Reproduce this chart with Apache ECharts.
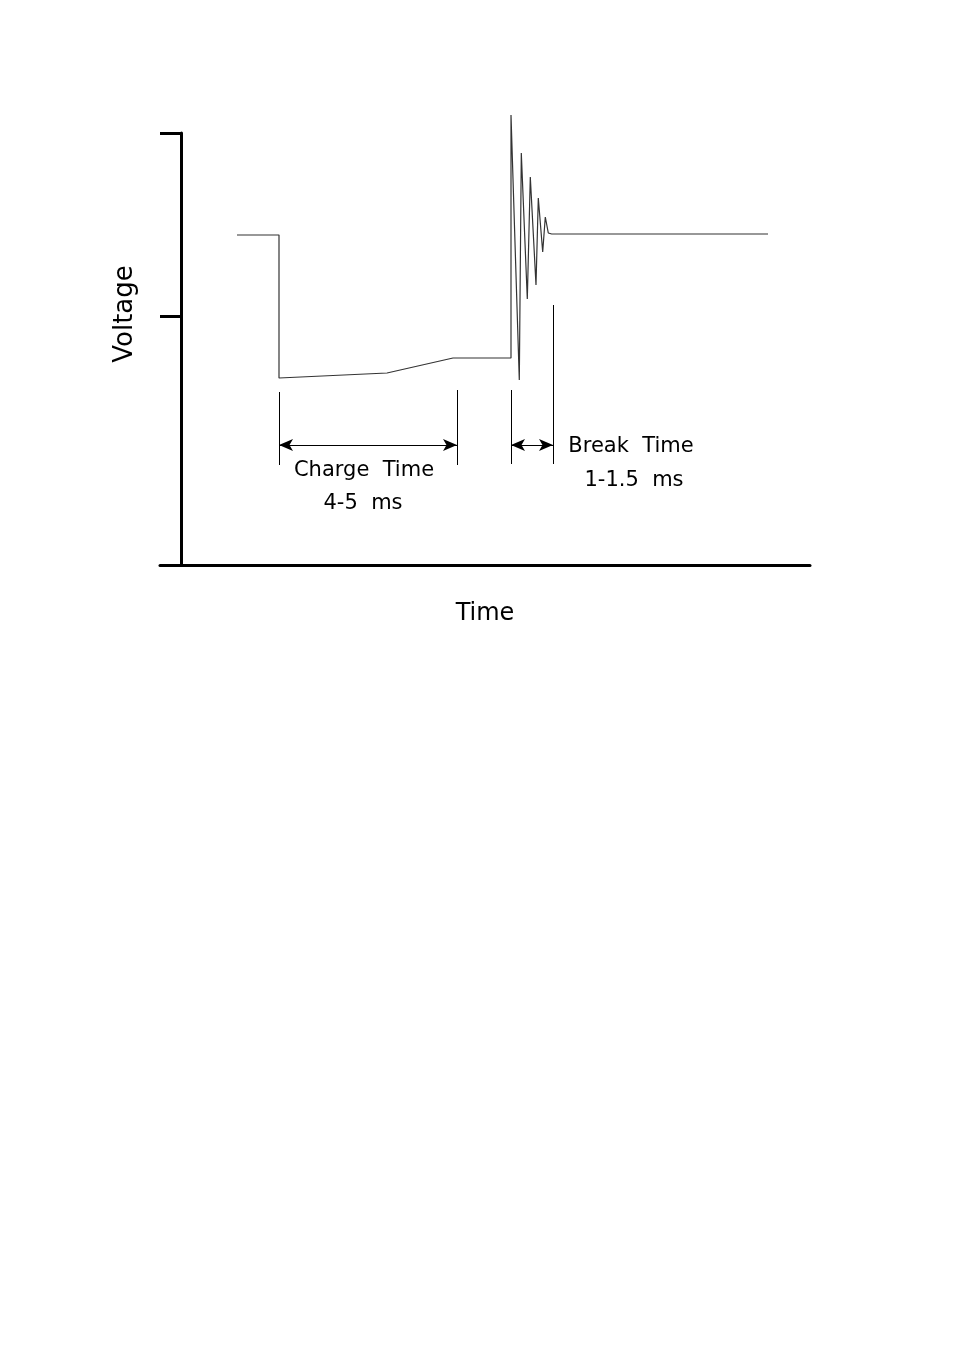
<!DOCTYPE html>
<html>
<head>
<meta charset="utf-8">
<script src="https://cdn.jsdelivr.net/npm/echarts@6/dist/echarts.min.js"></script>
<style>
  html, body { margin: 0; padding: 0; background: #fff; }
  #chart { width: 954px; height: 1351px; }
</style>
</head>
<body>
<div id="chart"></div>
<script>
// waveform (time in arbitrary units, voltage in arbitrary units)
var waveT = [56, 98, 98, 206, 272, 330, 330, 338.3, 340.3, 346.3, 349.3, 355, 357.3, 361.7, 364.3, 367.3, 370.7, 587];
var waveV = [330, 330, 187, 192, 207, 207, 450, 185, 412, 266, 388, 280, 367, 313, 348, 332, 331, 331];

// y axis tick positions
var yTicks = [249, 432];

// dimension markers: [t, vFrom, vTo]
var guideLines = [
  [98, 173, 100],
  [276, 175, 100],
  [330, 175, 101],
  [372, 260, 101]
];
// arrows: [tFrom, tTo, v]
var spanArrows = [
  [98, 276, 120],
  [330, 372, 120]
];
// labels: [text, t, v]
var notes = [
  ['Charge  Time', 183, 94],
  ['4-5  ms', 182, 61],
  ['Break  Time', 450, 118],
  ['1-1.5  ms', 453, 84]
];

var chart = echarts.init(document.getElementById('chart'));
var font = 'DejaVu Sans';

var markData = [];
guideLines.forEach(function (g) {
  markData.push([{ coord: [g[0], g[1]], symbol: 'none' }, { coord: [g[0], g[2]], symbol: 'none' }]);
});
spanArrows.forEach(function (a) {
  markData.push([{ coord: [a[0], a[2]], symbol: 'arrow' }, { coord: [a[1], a[2]], symbol: 'arrow' }]);
});

var option = {
  backgroundColor: '#fff',
  animation: false,
  grid: { left: 160, right: 144, top: 133, bottom: 786 },
  xAxis: {
    type: 'value',
    min: -21,
    max: 629,
    name: 'Time',
    nameLocation: 'middle',
    nameGap: 37,
    nameTextStyle: { fontFamily: font, fontSize: 24, color: '#000' },
    axisLine: { onZero: false, lineStyle: { color: '#000', width: 3 } },
    axisTick: { show: false },
    axisLabel: { show: false },
    splitLine: { show: false }
  },
  yAxis: {
    type: 'value',
    min: 0,
    max: 432,
    name: 'Voltage',
    nameLocation: 'middle',
    nameGap: 22,
    nameTextStyle: { fontFamily: font, fontSize: 26, color: '#000', padding: [0, 0, 0, 70] },
    axisLine: { onZero: true, lineStyle: { color: '#000', width: 3 } },
    axisTick: { show: true, length: 21, customValues: yTicks, lineStyle: { color: '#000', width: 3 } },
    axisLabel: { show: false },
    splitLine: { show: false }
  },
  series: [
    {
      type: 'line',
      clip: false,
      symbol: 'none',
      data: waveT.map(function (t, i) { return [t, waveV[i]]; }),
      lineStyle: { color: '#333', width: 1.2 },
      markLine: {
        silent: true,
        symbolSize: [9, 14],
        label: { show: false },
        lineStyle: { color: '#000', width: 1, type: 'solid' },
        itemStyle: { color: '#000' },
        data: markData
      },
      markPoint: {
        silent: true,
        symbolSize: 0,
        label: {
          show: true,
          position: 'inside',
          fontFamily: font,
          fontSize: 21,
          color: '#000',
          formatter: function (p) { return p.name; }
        },
        data: notes.map(function (n) { return { name: n[0], coord: [n[1], n[2]] }; })
      }
    }
  ]
};

chart.setOption(option);
</script>
</body>
</html>
